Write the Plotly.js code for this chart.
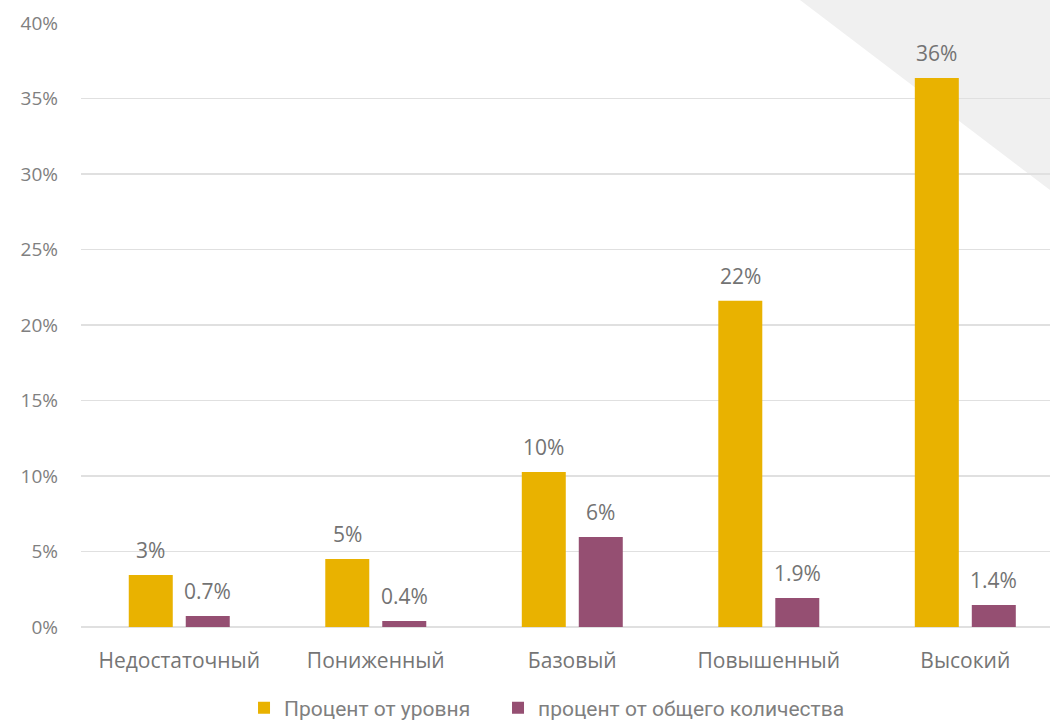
<!DOCTYPE html>
<html><head><meta charset="utf-8">
<script src="https://cdn.plot.ly/plotly-3.0.1.min.js"></script>
<style>html,body{margin:0;padding:0;background:#fff}#chart{width:1050px;height:721px}</style>
</head><body><div id="chart"></div>
<script>
const categories = ["Недостаточный", "Пониженный", "Базовый", "Повышенный", "Высокий"];
const levelPct = [3.44, 4.5, 10.26, 21.6, 36.36];
const levelLabels = ["3%", "5%", "10%", "22%", "36%"];
const totalPct = [0.73, 0.4, 5.96, 1.92, 1.46];
const totalLabels = ["0.7%", "0.4%", "6%", "1.9%", "1.4%"];
const seriesNames = ["Процент от уровня", "процент от общего количества"];
const yTicks = [0, 5, 10, 15, 20, 25, 30, 35, 40];

const FONT = "Open Sans, DejaVu Sans, sans-serif";
const gold = "#E9B200", plum = "#954F72";

const traces = [
  {type: "bar", x: categories, y: levelPct, name: seriesNames[0], marker: {color: gold}, hoverinfo: "none", legend: "legend"},
  {type: "bar", x: categories, y: totalPct, name: seriesNames[1], marker: {color: plum}, hoverinfo: "none", legend: "legend2"}
];

const annotations = [];
categories.forEach((c, i) => {
  annotations.push({x: c, y: levelPct[i], xref: "x", yref: "y", text: levelLabels[i], showarrow: false,
    xshift: -28.5, yshift: 25, yanchor: "middle", font: {family: FONT, size: 21, color: "#737373"}});
  annotations.push({x: c, y: totalPct[i], xref: "x", yref: "y", text: totalLabels[i], showarrow: false,
    xshift: 28.5, yshift: 25, yanchor: "middle", font: {family: FONT, size: 21, color: "#737373"}});
});

const legendBase = {orientation: "h", xanchor: "left", xref: "container", y: 0.018, yref: "container", yanchor: "middle",
  font: {family: "Roboto, sans-serif", size: 21, color: "#7f7f7f"}, itemclick: false, itemdoubleclick: false,
  bgcolor: "rgba(0,0,0,0)"};

const layout = {
  width: 1050, height: 721,
  margin: {l: 81, r: 0, t: 23, b: 94, autoexpand: false},
  paper_bgcolor: "#fff", plot_bgcolor: "rgba(0,0,0,0)",
  barmode: "group", bargap: 0.42, bargroupgap: 0.228,
  font: {family: FONT, size: 19, color: "#7f7f7f"},
  xaxis: {type: "category", range: [-0.5, 4.431], showgrid: false, zeroline: false, showline: false, automargin: false,
    ticks: "", tickangle: 0, ticklabelstandoff: 19, tickfont: {family: FONT, size: 21, color: "#757575"}, fixedrange: true},
  yaxis: {range: [0, 40], tickvals: yTicks, ticktext: yTicks.map(v => v + "%"), showgrid: true, automargin: false,
    gridcolor: "#e0e0e0", gridwidth: 1.5, zeroline: true, zerolinecolor: "#e0e0e0", zerolinewidth: 1.5,
    showline: false, ticks: "", ticklabelstandoff: 22, tickfont: {family: FONT, size: 19, color: "#808080"}, fixedrange: true},
  showlegend: true,
  legend: Object.assign({}, legendBase, {x: 0.2324}),
  legend2: Object.assign({}, legendBase, {x: 0.4743}),
  shapes: [{type: "path", xref: "paper", yref: "paper", layer: "below",
    path: "M 0.742 1.038 L 1 1.038 L 1 0.7235 Z", fillcolor: "#f0f0f0", line: {width: 0}}],
  annotations: annotations
};

Plotly.newPlot("chart", traces, layout, {displayModeBar: false, staticPlot: true});
</script></body></html>
